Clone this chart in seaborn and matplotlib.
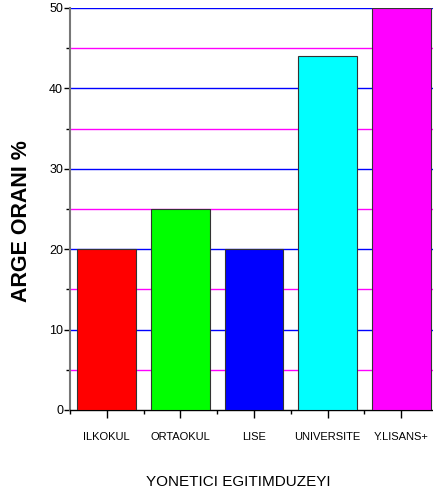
import matplotlib
matplotlib.use("Agg")
import matplotlib.pyplot as plt
from matplotlib.ticker import MultipleLocator
import seaborn as sns
import pandas as pd

categories = ["ILKOKUL", "ORTAOKUL", "LISE", "UNIVERSITE", "Y.LISANS+"]
values = [20, 25, 20, 44, 50]
colors = ["#FF0000", "#00FF00", "#0000FF", "#00FFFF", "#FF00FF"]

df = pd.DataFrame({"egitim": categories, "oran": values})

sns.set_theme(style="white")
plt.rcParams["font.family"] = ["Liberation Sans", "DejaVu Sans"]
plt.rcParams["text.color"] = "black"
plt.rcParams["axes.labelcolor"] = "black"
plt.rcParams["xtick.color"] = "black"
plt.rcParams["ytick.color"] = "black"

fig = plt.figure(figsize=(4.33, 4.99), dpi=100)
ax = fig.add_axes([70 / 433, 89 / 499, 368 / 433, 402 / 499])

sns.barplot(data=df, x="egitim", y="oran", hue="egitim", palette=colors,
            order=categories, hue_order=categories, dodge=False, legend=False,
            width=0.8, edgecolor="#333333", linewidth=0.8, saturation=1, ax=ax, zorder=3)

ax.set_ylim(0, 50)
ax.set_xlim(-0.5, len(categories) - 0.5)
ax.yaxis.set_major_locator(MultipleLocator(10))
ax.yaxis.set_minor_locator(MultipleLocator(5))
for v in range(10, 51, 10):
    ax.axhline(v, color="#0000FF", lw=1.0, zorder=1)
for v in range(5, 50, 10):
    ax.axhline(v, color="#FF00FF", lw=1.0, zorder=1)

ax.set_xticks(range(len(categories)))
ax.set_xticklabels(categories, fontsize=8)
ax.set_xticks([i + 0.5 for i in range(-1, len(categories))], minor=True)
ax.tick_params(axis="x", which="major", direction="out", length=6, width=1, pad=10)
ax.tick_params(axis="x", which="minor", direction="out", length=3, width=1)
ax.tick_params(axis="y", which="major", direction="out", length=4, width=1,
               labelsize=9, pad=1)
ax.tick_params(axis="y", which="minor", direction="out", length=3, width=1)
ax.tick_params(bottom=True, left=True, which="both")

for s in ["top", "right"]:
    ax.spines[s].set_visible(False)
ax.spines["left"].set_color("#777777")
ax.spines["left"].set_linewidth(1.5)
ax.spines["bottom"].set_color("black")
ax.spines["bottom"].set_linewidth(1.0)

ax.set_ylabel("ARGE ORANI %", fontsize=15.5, fontweight="bold")
ax.yaxis.set_label_coords(-0.103, 0.47)
ax.set_xlabel("YONETICI EGITIMDUZEYI", fontsize=11)
ax.xaxis.set_label_coords(0.457, -0.162)

fig.savefig("out.png", dpi=100)
